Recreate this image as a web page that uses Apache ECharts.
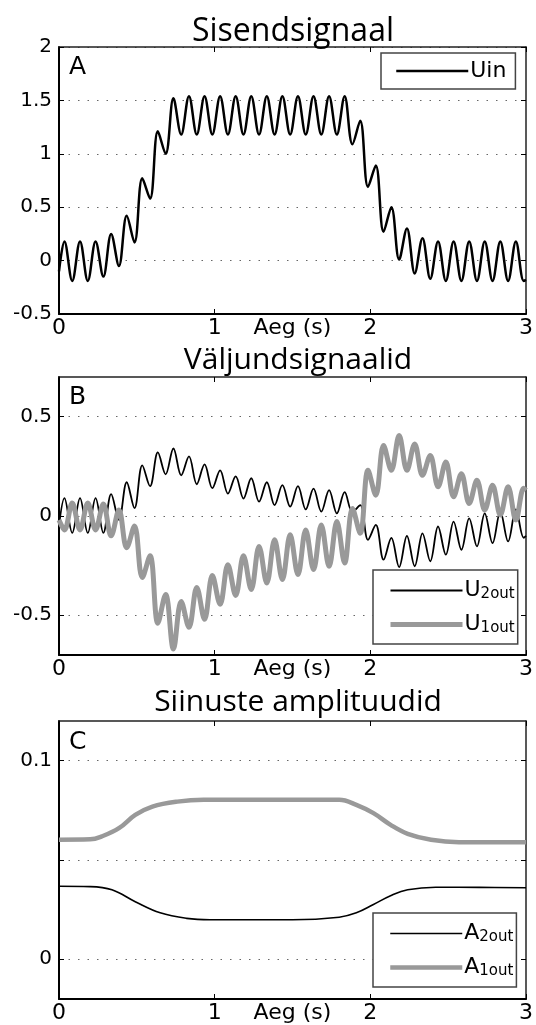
<!DOCTYPE html>
<html><head><meta charset="utf-8">
<script src="https://cdn.jsdelivr.net/npm/echarts@6/dist/echarts.min.js"></script>
<style>html,body{margin:0;padding:0;background:#fff}#c{width:536px;height:1025px}</style>
</head><body><div id="c"></div>
<script>
// Time (s) of the start, every read peak/trough (10 Hz ripple), and the end
const extremaTimes = [0,
 0.035,0.085,0.135,0.185,0.235,0.285,0.335,0.385,0.435,0.485,
 0.535,0.585,0.635,0.685,0.735,0.785,0.835,0.885,0.935,0.985,
 1.035,1.085,1.135,1.185,1.235,1.285,1.335,1.385,1.435,1.485,
 1.535,1.585,1.635,1.685,1.735,1.785,1.835,1.885,1.935,1.985,
 2.035,2.085,2.135,2.185,2.235,2.285,2.335,2.385,2.435,2.485,
 2.535,2.585,2.635,2.685,2.735,2.785,2.835,2.885,2.935,2.985,
 3.0];
// Panel A: Uin
const uinValues = [-0.10,
 0.18,-0.19, 0.18,-0.19, 0.18,-0.15, 0.25,-0.05, 0.42,0.17,
 0.77,0.58, 1.21,1.00, 1.52,1.18, 1.54,1.18, 1.54,1.18,
 1.54,1.18, 1.54,1.18, 1.54,1.18, 1.54,1.18, 1.54,1.18,
 1.54,1.18, 1.54,1.18, 1.54,1.18, 1.54,1.09, 1.31,0.69,
 0.89,0.27, 0.50,0.01, 0.30,-0.12, 0.21,-0.17, 0.18,-0.19,
 0.18,-0.19, 0.18,-0.19, 0.18,-0.19, 0.18,-0.19, 0.18,-0.19,
 -0.18];
// Panel B: U2out (black) and U1out (grey)
const u2outValues = [-0.05,
 0.09,-0.085, 0.09,-0.085, 0.09,-0.085, 0.11,-0.02, 0.17,0.04,
 0.255,0.15, 0.32,0.21, 0.34,0.205, 0.30,0.16, 0.26,0.14,
 0.23,0.113, 0.20,0.088, 0.19,0.072, 0.17,0.055, 0.155,0.047,
 0.15,0.033, 0.138,0.022, 0.13,0.013, 0.12,0.02, 0.055,-0.12,
 -0.045,-0.22, -0.11,-0.257, -0.10,-0.253, -0.087,-0.228, -0.053,-0.195,
 -0.028,-0.17, -0.012,-0.153, 0.013,-0.137, 0.022,-0.128, 0.033,-0.11,
 -0.10];
const u1outValues = [-0.02,
 -0.07,0.065, -0.07,0.065, -0.07,0.06, -0.10,0.03, -0.16,-0.05,
 -0.31,-0.20, -0.54,-0.395, -0.67,-0.43, -0.56,-0.36, -0.52,-0.30,
 -0.445,-0.245, -0.40,-0.20, -0.37,-0.153, -0.337,-0.12, -0.32,-0.095,
 -0.295,-0.07, -0.27,-0.045, -0.253,-0.028, -0.237,0.038, -0.087,0.23,
 0.105,0.355, 0.23,0.405, 0.23,0.363, 0.205,0.305, 0.147,0.272,
 0.097,0.213, 0.063,0.18, 0.03,0.155, 0.005,0.147, -0.02,0.14,
 0.13];
// Panel C: amplitudes
const a2outTimes = [0, 0.2, 0.34, 0.49, 0.65, 0.82, 0.97, 1.5, 1.8, 1.91, 2.02, 2.13, 2.24, 2.42, 2.7, 3.0];
const a2outValues = [0.0368, 0.0366, 0.035, 0.029, 0.0234, 0.0206, 0.0199, 0.0199, 0.0212, 0.0234, 0.0276, 0.032, 0.035, 0.0363, 0.0362, 0.036];
const a1outTimes = [0, 0.2, 0.275, 0.385, 0.49, 0.6, 0.76, 0.93, 1.5, 1.8, 1.91, 2.02, 2.13, 2.24, 2.39, 2.57, 3.0];
const a1outValues = [0.0602, 0.0604, 0.0619, 0.066, 0.0727, 0.0769, 0.0794, 0.0803, 0.0803, 0.0803, 0.0778, 0.0736, 0.0677, 0.0632, 0.0602, 0.059, 0.059];

// Axes / ticks
const panelTitles = ['Sisendsignaal', 'Väljundsignaalid', 'Siinuste amplituudid'];
const panelLetters = ['A', 'B', 'C'];
const xName = 'Aeg (s)';
const xRange = [0, 3];
const yRanges = [[-0.5, 2], [-0.7, 0.7], [-0.02, 0.12]];
const yGridTicks = [[-0.5, 0, 0.5, 1, 1.5, 2], [-0.5, 0, 0.5], [0, 0.05, 0.1]];
const yTickLabels = [[-0.5, 0, 0.5, 1, 1.5, 2], [-0.5, 0, 0.5], [0, 0.1]];
const legendNames = [['Uin'], ['U2out', 'U1out'], ['A2out', 'A1out']];

const pairs = (ts, vs) => ts.map((t, i) => [t, vs[i]]);

const gridTops = [47, 377, 721];
const gridHeights = [267, 278, 278];
const titleX = [293, 298, 298];
const titleTops = [16, 345, 687];
const letterTops = [55, 385, 730];
const legendTops = [53, 570, 913];
const legendLefts = [381, 373, 373];

const grid = gridTops.map((t, i) => ({left: 59, right: 7, top: t, height: gridHeights[i]}));

const xAxis = [];
const yAxis = [];
for (let i = 0; i < 3; i++) {
  xAxis.push({
    type: 'value', gridIndex: i, min: xRange[0], max: xRange[1], interval: 1, position: 'bottom',
    axisLine: {show: true, onZero: false, lineStyle: {color: '#000', width: 2}},
    axisTick: {show: true, inside: true, length: 5, lineStyle: {color: '#000', width: 1}},
    axisLabel: {fontFamily: 'DejaVu Sans', fontSize: 22, color: '#000', margin: 3},
    splitLine: {show: false},
    name: xName, nameLocation: 'middle', nameGap: 3, nameMoveOverlap: false,
    nameTextStyle: {fontFamily: 'DejaVu Sans', fontSize: 22, color: '#000', verticalAlign: 'top'}
  });
}
for (let i = 0; i < 3; i++) {
  xAxis.push({
    type: 'value', gridIndex: i, min: xRange[0], max: xRange[1], interval: 1, position: 'top',
    axisLine: {show: true, onZero: false, lineStyle: {color: '#222', width: 1.5}},
    axisTick: {show: true, inside: true, length: 5, lineStyle: {color: '#000', width: 1}},
    axisLabel: {show: false}, splitLine: {show: false}
  });
}
for (let i = 0; i < 3; i++) {
  yAxis.push({
    type: 'value', gridIndex: i, min: yRanges[i][0], max: yRanges[i][1], position: 'left',
    axisLine: {show: true, onZero: false, lineStyle: {color: '#000', width: 2}},
    axisTick: {show: true, inside: true, length: 5, customValues: yGridTicks[i], lineStyle: {color: '#000', width: 1}},
    axisLabel: {customValues: yTickLabels[i], fontFamily: 'DejaVu Sans', fontSize: 20, color: '#000', margin: 7},
    splitLine: {show: true, lineStyle: {color: '#666', width: 1, type: [1.5, 8]}}
  });
}
for (let i = 0; i < 3; i++) {
  yAxis.push({
    type: 'value', gridIndex: i, min: yRanges[i][0], max: yRanges[i][1], position: 'right',
    axisLine: {show: true, onZero: false, lineStyle: {color: '#222', width: 1.5}},
    axisTick: {show: true, inside: true, length: 5, customValues: yGridTicks[i], lineStyle: {color: '#000', width: 1}},
    axisLabel: {show: false}, splitLine: {show: false}
  });
}

const title = [];
for (let i = 0; i < 3; i++) {
  title.push({text: panelTitles[i], left: titleX[i], top: titleTops[i], textAlign: 'center', padding: 0,
    textStyle: {fontFamily: 'Open Sans', fontSize: i === 0 ? 32 : 30, fontWeight: 'normal', color: '#000'}});
  title.push({text: panelLetters[i], left: 69, top: letterTops[i], padding: 0,
    textStyle: {fontFamily: 'DejaVu Sans', fontSize: 25, fontWeight: 'normal', color: '#000'}});
}

const legend = legendNames.map((names, i) => ({
  data: names, orient: 'vertical', left: legendLefts[i], top: legendTops[i],
  padding: i === 0 ? [7, 9, 7, 14] : [9, 3, 8, 15],
  itemGap: 11, itemWidth: 72, itemHeight: 14,
  borderColor: '#444', borderWidth: 1.5, backgroundColor: '#fff',
  selectedMode: false,
  itemStyle: {opacity: 0},
  lineStyle: {width: 'inherit'},
  formatter: n => n.length > 3 ? '{m|' + n[0] + '}{s|' + n.slice(1) + '}' : '{m|' + n + '}',
  textStyle: {
    fontFamily: 'DejaVu Sans', fontSize: 22, color: '#000', padding: [0, 0, 0, -3],
    rich: {
      m: {fontFamily: 'DejaVu Sans', fontSize: 22, lineHeight: 26, color: '#000'},
      s: {fontFamily: 'DejaVu Sans', fontSize: 15, lineHeight: 18, padding: [8, 0, 0, 0], color: '#000'}
    }
  }
}));

const black = '#000';
const grey = '#999';
const series = [
  {name: 'Uin', type: 'line', xAxisIndex: 0, yAxisIndex: 0, data: pairs(extremaTimes, uinValues),
   smooth: 0.36, symbol: 'none', lineStyle: {color: black, width: 2.5}, itemStyle: {color: black}},
  {name: 'U2out', type: 'line', xAxisIndex: 1, yAxisIndex: 1, data: pairs(extremaTimes, u2outValues),
   smooth: 0.36, symbol: 'none', lineStyle: {color: black, width: 1.8}, itemStyle: {color: black}},
  {name: 'U1out', type: 'line', xAxisIndex: 1, yAxisIndex: 1, data: pairs(extremaTimes, u1outValues),
   smooth: 0.36, symbol: 'none', lineStyle: {color: grey, width: 5}, itemStyle: {color: grey}},
  {name: 'A2out', type: 'line', xAxisIndex: 2, yAxisIndex: 2, data: pairs(a2outTimes, a2outValues),
   smooth: 0.4, symbol: 'none', lineStyle: {color: black, width: 1.6}, itemStyle: {color: black}},
  {name: 'A1out', type: 'line', xAxisIndex: 2, yAxisIndex: 2, data: pairs(a1outTimes, a1outValues),
   smooth: 0.4, symbol: 'none', lineStyle: {color: grey, width: 4.5}, itemStyle: {color: grey}}
];

const chart = echarts.init(document.getElementById('c'), null, {renderer: 'canvas'});
chart.setOption({animation: false, backgroundColor: '#fff', title, legend, grid, xAxis, yAxis, series});
</script>
</body></html>
